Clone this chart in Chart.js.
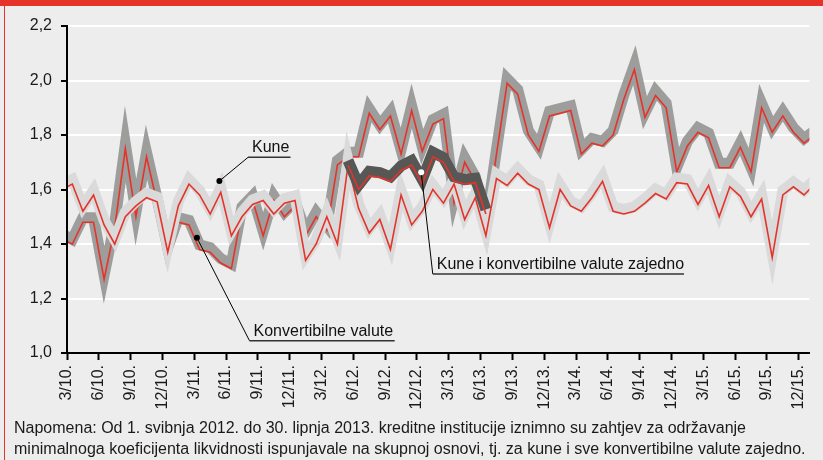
<!DOCTYPE html>
<html>
<head>
<meta charset="utf-8">
<script src="https://cdn.jsdelivr.net/npm/chart.js"></script>
<style>
    body { margin: 0; background: #ededed; }
    #okvir { position: relative; width: 823px; height: 460px; background: #ededed; overflow: hidden; }
    #graf { position: absolute; left: 0; top: 0; }
    #traka { position: absolute; left: 0; top: 0; width: 823px; height: 6px; background: #e5332a; }
    #rub { position: absolute; left: 4px; top: 0; width: 1px; height: 460px; background: #e5332a; }
    #napomena {
        position: absolute; left: 14px; top: 417px;
        font: 16px "Liberation Sans", Arial, sans-serif; line-height: 21px;
        color: #1a1a1a; white-space: nowrap;
    }
</style>
</head>
<body>
<div id="okvir">
    <canvas id="graf" width="823" height="460"></canvas>
    <div id="traka"></div>
    <div id="rub"></div>
    <div id="napomena">Napomena: Od 1. svibnja 2012. do 30. lipnja 2013. kreditne institucije iznimno su zahtjev za održavanje<br>minimalnoga koeficijenta likvidnosti ispunjavale na skupnoj osnovi, tj. za kune i sve konvertibilne valute zajedno.</div>
</div>
<script>
// Podaci - mjesečno, od 2/10. do 1/16. (prva i zadnja točka padaju izvan osi)
var kune = [
    1.60, 1.62, 1.52, 1.58, 1.47, 1.40, 1.50, 1.54, 1.57, 1.555, 1.37, 1.54,
    1.62, 1.58, 1.51, 1.59, 1.43, 1.50, 1.545, 1.56, 1.51, 1.55, 1.56, 1.34,
    1.40, 1.50, 1.40, 1.69, 1.53, 1.44, 1.49, 1.38, 1.58, 1.47, 1.52, 1.60,
    1.55, 1.62, 1.49, 1.57, 1.43, 1.64, 1.615, 1.66, 1.62, 1.60, 1.46, 1.60,
    1.54, 1.52, 1.57, 1.63, 1.52, 1.51, 1.52, 1.55, 1.585, 1.565, 1.625, 1.62,
    1.545, 1.615, 1.50, 1.61, 1.575, 1.50, 1.565, 1.35, 1.58, 1.61, 1.58, 1.62
]
var konvertibilne = [
    1.42, 1.40, 1.48, 1.48, 1.27, 1.46, 1.75, 1.50, 1.72, 1.55, 1.37, 1.48,
    1.47, 1.38, 1.37, 1.33, 1.31, 1.52, 1.56, 1.43, 1.56, 1.50, 1.54, 1.43,
    1.50, 1.45, 1.69, 1.72, 1.72, 1.88, 1.82, 1.87, 1.73, 1.89, 1.74, 1.84,
    1.86, 1.55, 1.70, 1.63, 1.46, 1.73, 1.99, 1.95, 1.80, 1.74, 1.87, 1.88,
    1.89, 1.73, 1.77, 1.76, 1.80, 1.93, 2.04, 1.865, 1.945, 1.90, 1.665, 1.76,
    1.81, 1.79, 1.68, 1.68, 1.755, 1.665, 1.90, 1.81, 1.87, 1.81, 1.77, 1.80
]
// skupna osnova samo od 5/12. do 6/13.
var zajedno = [
    null, null, null, null, null, null, null, null, null, null, null, null,
    null, null, null, null, null, null, null, null, null, null, null, null,
    null, null, null, 1.69, 1.60, 1.65, 1.645, 1.63, 1.67, 1.69, 1.62, 1.72,
    1.70, 1.63, 1.62, 1.625, 1.51, null, null, null, null, null, null, null,
    null, null, null, null, null, null, null, null, null, null, null, null,
    null, null, null, null, null, null, null, null, null, null, null, null
]
var oznakeX = ['3/10.', '6/10.', '9/10.', '12/10.', '3/11.', '6/11.', '9/11.', '12/11.',
    '3/12.', '6/12.', '9/12.', '12/12.', '3/13.', '6/13.', '9/13.', '12/13.',
    '3/14.', '6/14.', '9/14.', '12/14.', '3/15.', '6/15.', '9/15.', '12/15.']
var oznakeY = [1.0, 1.2, 1.4, 1.6, 1.8, 2.0, 2.2]

const pismo = '"Liberation Sans", Arial, sans-serif'
const crvena = '#e5332a'

// točka i je mjesec i-1 od 3/10., smještena u sredinu mjeseca
function tocke(niz) {
    return niz.map((v, i) => ({ x: i - 0.5, y: v }))
}

function linija(niz, boja, debljina, red, pomak) {
    return {
        data: tocke(niz),
        borderColor: boja,
        borderWidth: debljina,
        borderJoinStyle: 'miter',
        borderCapStyle: 'butt',
        pointRadius: 0,
        tension: 0,
        fill: false,
        clip: 0,
        order: red,
        pomak: pomak
    }
}

// siva traka leži malo iznad crvene linije
const pomakPlugin = {
    id: 'pomak',
    beforeDatasetDraw(chart, args) {
        const ds = chart.data.datasets[args.index]
        chart.ctx.save()
        if (ds.pomak) chart.ctx.translate(0, ds.pomak)
    },
    afterDatasetDraw(chart) {
        chart.ctx.restore()
    }
}

// opisi s pokaznim linijama (x u mjesecima, y u vrijednostima)
var opisi = [
    { tekst: 'Kune', tocka: [14.37, 1.631], koljeno: [17.07, 1.718], kraj: 21.08, bijela: false },
    { tekst: 'Konvertibilne valute', tocka: [12.25, 1.423], koljeno: [17.21, 1.045], kraj: 30.9, bijela: false },
    { tekst: 'Kune i konvertibilne valute zajedno', tocka: [33.4, 1.663], koljeno: [34.49, 1.29], kraj: 58.18, bijela: true }
]

const opisiPlugin = {
    id: 'opisi',
    afterDatasetsDraw(chart) {
        const ctx = chart.ctx
        const x = chart.scales.x
        const y = chart.scales.y
        ctx.save()
        opisi.forEach(o => {
            const tx = x.getPixelForValue(o.tocka[0]), ty = y.getPixelForValue(o.tocka[1])
            const kx = x.getPixelForValue(o.koljeno[0]), ky = y.getPixelForValue(o.koljeno[1])
            const ex = x.getPixelForValue(o.kraj)
            ctx.strokeStyle = '#000'
            ctx.lineWidth = 1
            ctx.beginPath()
            ctx.moveTo(tx, ty)
            ctx.lineTo(kx, ky)
            ctx.stroke()
            ctx.strokeStyle = '#333'
            ctx.lineWidth = 1.5
            ctx.beginPath()
            ctx.moveTo(kx, ky)
            ctx.lineTo(ex, ky)
            ctx.stroke()
            ctx.fillStyle = o.bijela ? '#fff' : '#000'
            ctx.beginPath()
            ctx.arc(tx, ty, 3, 0, Math.PI * 2)
            ctx.fill()
            ctx.fillStyle = '#111'
            ctx.font = '16px ' + pismo
            ctx.textBaseline = 'alphabetic'
            ctx.fillText(o.tekst, kx + 4, ky - 5)
        })
        ctx.restore()
    }
}

const graf = new Chart(document.getElementById('graf'), {
    type: 'line',
    data: {
        datasets: [
            linija(zajedno, crvena, 1.6, 0, 0),
            linija(zajedno, '#575756', 11, 1, -4.5),
            linija(kune, crvena, 1.6, 2, 0),
            linija(kune, '#dadada', 11, 3, -4.5),
            linija(konvertibilne, crvena, 1.6, 4, 0),
            linija(konvertibilne, '#9d9d9c', 11, 5, -4.5)
        ]
    },
    options: {
        responsive: false,
        devicePixelRatio: 1,
        animation: false,
        events: [],
        layout: { padding: { top: 26, right: 5, bottom: 0, left: 0 } },
        plugins: { legend: { display: false }, tooltip: { enabled: false } },
        scales: {
            x: {
                type: 'linear',
                min: 0,
                max: 70,
                afterFit: s => { s.height = 107 },
                afterBuildTicks: s => { s.ticks = oznakeX.map((t, i) => ({ value: i * 3 })) },
                ticks: {
                    autoSkip: false,
                    minRotation: 90,
                    maxRotation: 90,
                    padding: 5,
                    color: '#1a1a1a',
                    font: { family: pismo, size: 16 },
                    callback: v => oznakeX[Math.round(v / 3)]
                },
                grid: { drawOnChartArea: false, tickLength: 7, tickColor: '#000', tickWidth: 2 },
                border: { color: '#000', width: 2, z: 1 }
            },
            y: {
                min: 1,
                max: 2.2,
                afterFit: s => { s.width = 67 },
                afterBuildTicks: s => { s.ticks = oznakeY.map(v => ({ value: v })) },
                ticks: {
                    padding: 9,
                    color: '#1a1a1a',
                    font: { family: pismo, size: 16 },
                    callback: v => v.toFixed(1).replace('.', ',')
                },
                grid: { color: '#ffffff', lineWidth: 2, tickColor: '#000', tickWidth: 2, tickLength: 6 },
                border: { color: '#000', width: 2, z: 1 }
            }
        }
    },
    plugins: [pomakPlugin, opisiPlugin]
})
</script>
</body>
</html>
